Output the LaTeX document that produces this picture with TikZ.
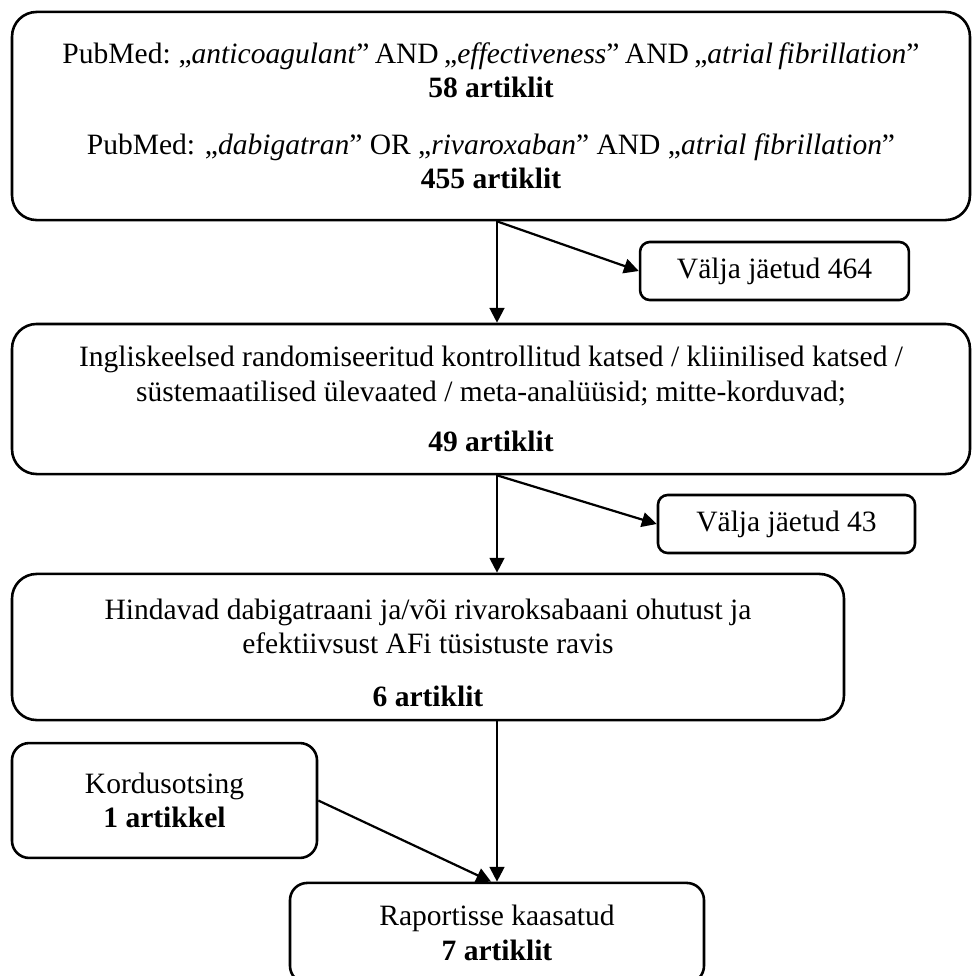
\documentclass[tikz,border=0pt]{standalone}
\usepackage{fontspec}
\setmainfont{Liberation Serif}
\usetikzlibrary{arrows.meta,calc}
\tikzset{
  boxbase/.style={draw, line width=1.05pt, align=center, inner sep=0pt, font=\fontsize{12}{14}\selectfont},
  bigbox/.style={boxbase, rounded corners=10pt},
  smallbox/.style={boxbase, rounded corners=4pt},
  midbox/.style={boxbase, rounded corners=7pt},
  conn/.style={line width=0.9pt, -{Triangle[length=6pt,width=6pt]}}
}
\begin{document}
\begin{tikzpicture}[x=0.4065pt,y=-0.4065pt]
\useasboundingbox (0,0) rectangle (972,976);
\node[bigbox, minimum width=389.4pt, minimum height=84.6pt] (b1) at (491,116)
  {{\spaceskip=2.2pt\relax PubMed: „\textit{anticoagulant}” AND „\textit{effectiveness}” AND „\textit{atrial fibrillation}”}\\
   \textbf{58 artiklit}\\[9pt]
   PubMed: „\textit{dabigatran}” OR „\textit{rivaroxaban}” AND „\textit{atrial fibrillation}”\\
   \textbf{455 artiklit}};
\node[smallbox, minimum width=109.3pt, minimum height=23.6pt] (v1) at (774.5,271) {Välja jäetud 464};
\node[bigbox, minimum width=389.4pt, minimum height=61pt] (b2) at (491,399)
  {Ingliskeelsed randomiseeritud kontrollitud katsed / kliinilised katsed /\\
   süstemaatilised ülevaated / meta-analüüsid; mitte-korduvad;\\[6.5pt]
   \textbf{49 artiklit}};
\node[smallbox, minimum width=104.5pt, minimum height=23.6pt] (v2) at (786.5,524) {Välja jäetud 43};
\node[bigbox, minimum width=338.2pt, minimum height=59.4pt] (b3) at (428,647)
  {\mbox{}\\[-1pt]Hindavad dabigatraani ja/või rivaroksabaani ohutust ja\\
   efektiivsust AFi tüsistuste ravis\\[7.3pt]
   \textbf{6 artiklit}};
\node[midbox, minimum width=124pt, minimum height=46.7pt] (k) at (164.5,800.5)
  {Kordusotsing\\ \textbf{1 artikkel}};
\node[midbox, minimum width=168.3pt, minimum height=40.7pt] (b5) at (497,933)
  {Raportisse kaasatud\\ \textbf{7 artiklit}};
\draw[conn] (b1.south -| b5.north) -- (b2.north -| b5.north);
\draw[conn] (b1.south -| b5.north) -- (v1.west);
\draw[conn] (b2.south -| b5.north) -- (b3.north -| b5.north);
\draw[conn] (b2.south -| b5.north) -- (v2.west);
\draw[conn] (b3.south -| b5.north) -- (b5.north);
\draw[conn] (k.east) -- ([xshift=-2.4pt]b5.north);
\end{tikzpicture}
\end{document}
